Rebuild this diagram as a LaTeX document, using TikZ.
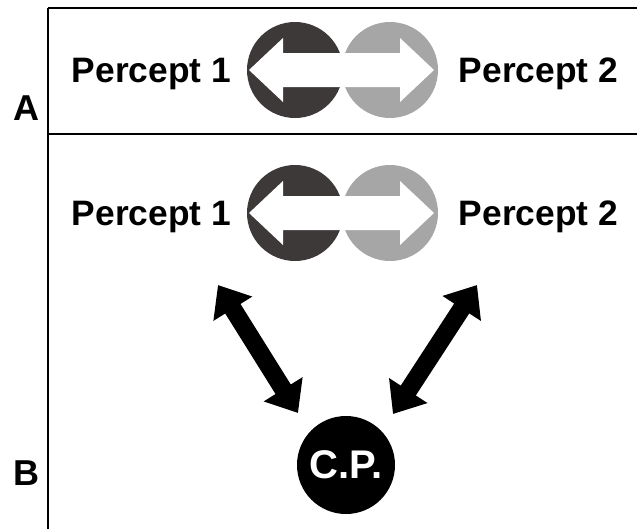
\documentclass[tikz,border=0pt]{standalone}
\usepackage{fontspec}
\setmainfont{Liberation Sans}
\usepackage{tikz}
\usetikzlibrary{arrows.meta}
\definecolor{darkdisc}{HTML}{3E3939}
\definecolor{lightdisc}{HTML}{A6A6A6}

\begin{document}
\begin{tikzpicture}[x=0.75pt,y=0.75pt,yscale=-1,xscale=1,
    percept/.style={font=\fontsize{26.5}{30}\selectfont\bfseries,anchor=base},
    panel/.style={font=\fontsize{27}{30}\selectfont\bfseries,anchor=base},
    link/.style={line width=13.5pt,{Triangle[length=21pt,width=33pt]}-{Triangle[length=21pt,width=33pt]}}]
    \useasboundingbox (0,0) rectangle (637,529);
    \draw [line width=1.6pt]  (48,8) -- (637,8) (48,134) -- (637,134) (48,8) -- (48,529) ;
    % the two percepts, once per panel
    \foreach \c in {70,213} {
      \fill [darkdisc] (295,\c) circle [radius=48];
      \fill [lightdisc] (390,\c) circle [radius=48];
      \fill [white] (249,\c) -- (283,{\c-32}) -- (283,{\c-17}) -- (400,{\c-17}) -- (400,{\c-32}) -- (434,\c) -- (400,{\c+32}) -- (400,{\c+17}) -- (283,{\c+17}) -- (283,{\c+32}) -- cycle ;
    }
    \node [percept] (perceptAone) at (151.5,82) {Percept 1};
    \node [percept] (perceptAtwo) at (538.5,82) {Percept 2};
    \node [percept] (perceptBone) at (151.5,225) {Percept 1};
    \node [percept] (perceptBtwo) at (538.5,225) {Percept 2};
    \node [panel] (panelA) at (26,120) {A};
    \node [panel] (panelB) at (26,485) {B};
    \node [circle,fill=black,minimum size=73.5pt,inner sep=0pt,text=white,font=\fontsize{30}{32}\selectfont\bfseries] (cp) at (346,465) {C.P.};
    \coordinate (leftfar) at (218,285);
    \coordinate (leftnear) at (298,413);
    \coordinate (rightfar) at (477,285);
    \coordinate (rightnear) at (393,414);
    \draw [link] (leftfar) -- (leftnear);
    \draw [link] (rightfar) -- (rightnear);
\end{tikzpicture}
\end{document}
